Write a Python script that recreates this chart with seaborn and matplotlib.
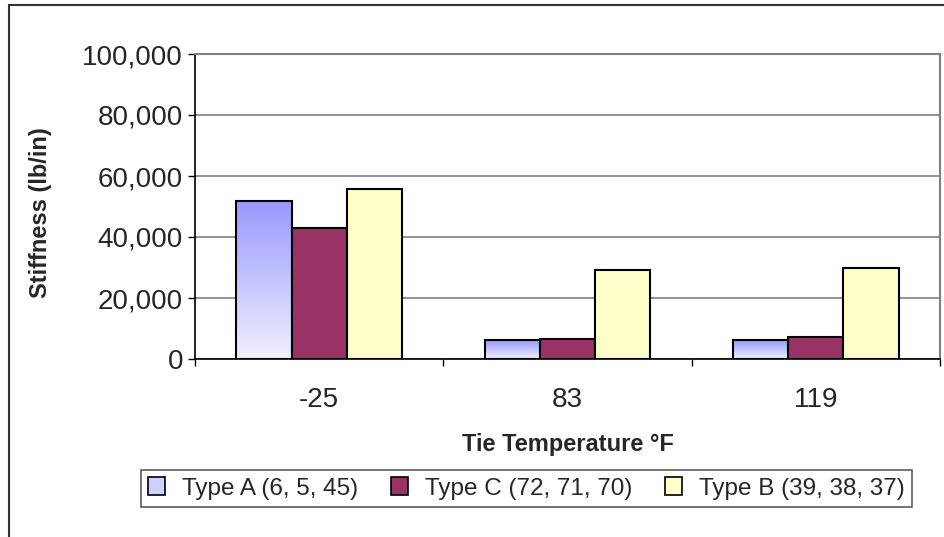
import numpy as np
import pandas as pd
import matplotlib
matplotlib.use('Agg')
import matplotlib.pyplot as plt
import seaborn as sns
from matplotlib.patches import Patch, Rectangle
from matplotlib.ticker import StrMethodFormatter, FixedLocator, NullFormatter

# ---- data ----
temperatures = ['-25', '83', '119']
series_names = ['Type A (6, 5, 45)', 'Type C (72, 71, 70)', 'Type B (39, 38, 37)']
type_a = [51800, 6200, 6200]
type_c = [42800, 6700, 7100]
type_b = [55800, 29300, 29700]
y_ticks = [0, 20000, 40000, 60000, 80000, 100000]

sns.set_style('white')
plt.rcParams['font.family'] = ['Liberation Sans', 'DejaVu Sans']

df = pd.DataFrame({
    'temp': temperatures * 3,
    'series': np.repeat(series_names, 3),
    'value': type_a + type_c + type_b,
})

W, H = 944, 537
fig = plt.figure(figsize=(W / 100, H / 100), dpi=100)
ax = fig.add_axes([195 / W, 178 / H, 745 / W, 305 / H])

palette = {series_names[0]: '#CCCCFF', series_names[1]: '#993366', series_names[2]: '#FFFFCC'}
sns.barplot(data=df, x='temp', y='value', hue='series', hue_order=series_names,
            order=temperatures, palette=palette, width=2 / 3, gap=0,
            edgecolor='black', linewidth=1.5, saturation=1, errorbar=None,
            legend=False, ax=ax)

# gradient fill for Type A bars
top_c = np.array([153, 153, 255]) / 255
bot_c = np.array([240, 240, 255]) / 255
t = np.linspace(0, 1, 256)[:, None, None]
grad = bot_c[None, None, :] + (top_c - bot_c)[None, None, :] * t
for bar in ax.containers[0]:
    x0, w = bar.get_x(), bar.get_width()
    y0, h = bar.get_y(), bar.get_height()
    im = ax.imshow(grad, extent=[x0, x0 + w, y0, y0 + h], origin='lower',
                   aspect='auto', interpolation='bilinear', zorder=0.95)
    im.set_clip_path(bar)
    bar.set_facecolor('none')

ax.set_xlim(-0.5, 2.5)
ax.set_ylim(0, 100000)
ax.set_aspect('auto')

# y axis
ax.set_yticks(y_ticks)
ax.yaxis.set_major_formatter(StrMethodFormatter('{x:,.0f}'))
ax.tick_params(axis='y', which='major', direction='out', length=5, width=1,
               color='black', labelsize=20, pad=3.6, left=True)

# x axis: ticks at category boundaries, labels at centers
ax.xaxis.set_major_locator(FixedLocator([-0.5, 0.5, 1.5, 2.5]))
ax.xaxis.set_major_formatter(NullFormatter())
ax.set_xticks([0, 1, 2], labels=temperatures, minor=True)
ax.tick_params(axis='x', which='major', direction='out', length=5, width=1,
               color='black', bottom=True)
ax.tick_params(axis='x', which='minor', length=0, labelsize=20, pad=20)

# grid and spines
ax.set_axisbelow(True)
ax.yaxis.grid(True, color='#808080', lw=1.2)
ax.xaxis.grid(False)
for s in ['left', 'bottom']:
    ax.spines[s].set_color('black')
    ax.spines[s].set_linewidth(1.2)
for s in ['top', 'right']:
    ax.spines[s].set_color('#808080')
    ax.spines[s].set_linewidth(1.5)

# axis titles
ax.set_xlabel('Tie Temperature °F', fontsize=17, fontweight='bold')
ax.xaxis.set_label_coords(0.5, (359 - 445) / 305)
ax.xaxis.label.set_va('center')
ax.set_ylabel('Stiffness (lb/in)', fontsize=17, fontweight='bold')
ax.yaxis.set_label_coords((41 - 195) / 745, 0.48)
ax.yaxis.label.set_va('center')

# legend
handles = [Patch(facecolor='#D0D0FF', edgecolor='black', lw=1.2),
           Patch(facecolor='#993366', edgecolor='black', lw=1.2),
           Patch(facecolor='#FFFFCC', edgecolor='black', lw=1.2)]
leg = fig.legend(handles, series_names, loc='center',
                 bbox_to_anchor=(526.5 / W, 1 - 488.5 / H), ncol=3, fontsize=17.5,
                 frameon=True, fancybox=False, edgecolor='#333333',
                 handlelength=0.7, handleheight=0.7, handletextpad=0.7,
                 columnspacing=1.35, borderpad=0.3)
leg.get_frame().set_linewidth(1.2)

# outer chart border
fig.add_artist(Rectangle((9 / W, -0.1), 1.2, (H - 5) / H + 0.1,
                         transform=fig.transFigure, fill=False,
                         ec='#333333', lw=1.5, clip_on=False))

fig.savefig('out.png', dpi=100)
